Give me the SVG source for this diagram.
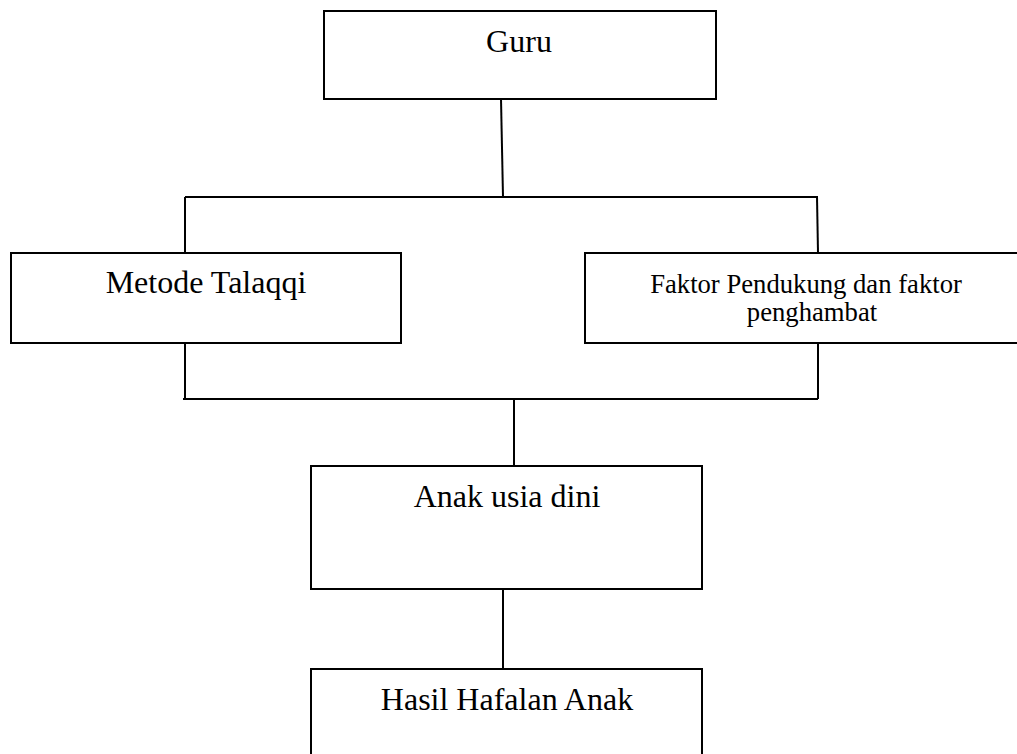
<svg xmlns="http://www.w3.org/2000/svg" width="1017" height="754" viewBox="0 0 1017 754">
<style>
.box{fill:#fff;stroke:#000;stroke-width:2}
.ln{fill:none;stroke:#000;stroke-width:2}
.t{font-family:"Liberation Serif","Times New Roman",serif;font-size:32px;fill:#000;text-anchor:middle}
.s{font-size:26.67px}
</style>
<rect width="1017" height="754" fill="#fff"/>
<g id="connectors">
<path class="ln" d="M501,99 L503,197"/>
<path class="ln" d="M185,197 H818"/>
<path class="ln" d="M185,197 V253"/>
<path class="ln" d="M817,197 L818,253"/>
<path class="ln" d="M185,343 V399"/>
<path class="ln" d="M818,343 V399"/>
<path class="ln" d="M183,399 H818"/>
<path class="ln" d="M514,399 V466"/>
<path class="ln" d="M503,589 V669"/>
</g>
<g id="guru">
<rect class="box" x="324" y="11" width="392" height="88"/>
<text class="t" x="519" y="52">Guru</text>
</g>
<g id="metode">
<rect class="box" x="11" y="253" width="390" height="90"/>
<text class="t" x="206" y="293">Metode Talaqqi</text>
</g>
<g id="faktor">
<rect class="box" x="585" y="253" width="442" height="90"/>
<text class="t s" x="806" y="293">Faktor Pendukung dan faktor</text>
<text class="t s" x="812" y="321">penghambat</text>
</g>
<g id="anak">
<rect class="box" x="311" y="466" width="391" height="123"/>
<text class="t" x="507" y="507">Anak usia dini</text>
</g>
<g id="hasil">
<rect class="box" x="311" y="669" width="391" height="100"/>
<text class="t" x="507" y="710">Hasil Hafalan Anak</text>
</g>
</svg>
